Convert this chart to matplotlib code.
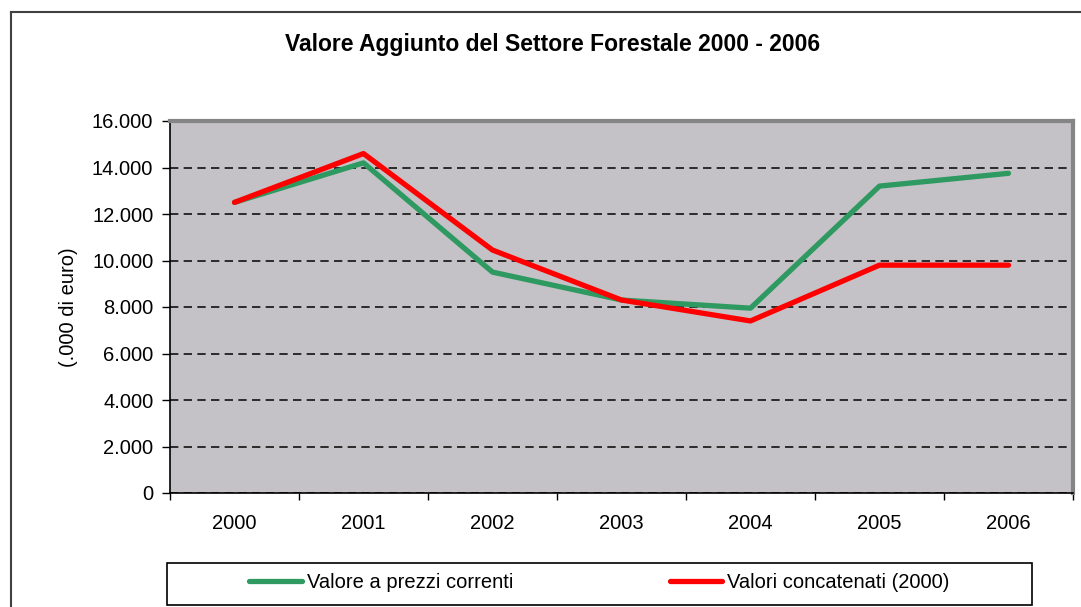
import matplotlib.pyplot as plt
from matplotlib.lines import Line2D
from matplotlib.patches import Rectangle
from matplotlib.ticker import FuncFormatter, FixedLocator

plt.rcParams['font.family'] = ['Liberation Sans', 'DejaVu Sans']

# Dati
anni = ['2000', '2001', '2002', '2003', '2004', '2005', '2006']
prezzi_correnti = [12500, 14200, 9500, 8300, 7950, 13200, 13750]
valori_concatenati = [12500, 14600, 10450, 8300, 7400, 9800, 9800]

W, H = 1081, 607
fig = plt.figure(figsize=(W / 100, H / 100), dpi=100)

# Area del grafico
ax = fig.add_axes([170 / W, 1 - 493 / H, (1073 - 170) / W, (493 - 121) / H])
ax.set_facecolor('#C4C2C6')

x = range(len(anni))
ax.plot(x, prezzi_correnti, color='#2E9960', lw=3.8, solid_capstyle='round',
        label='Valore a prezzi correnti', zorder=3)
ax.plot(x, valori_concatenati, color='#FF0000', lw=3.8, solid_capstyle='round',
        label='Valori concatenati (2000)', zorder=4)

ax.set_xlim(-0.5, len(anni) - 0.5)
ax.set_ylim(0, 16000)
ax.set_yticks(range(0, 16001, 2000))
ax.yaxis.set_major_formatter(FuncFormatter(lambda v, p: format(int(v), ',').replace(',', '.')))

# tick sui confini delle categorie, etichette al centro
ax.xaxis.set_major_locator(FixedLocator([i - 0.5 for i in range(len(anni) + 1)]))
ax.xaxis.set_minor_locator(FixedLocator(list(x)))
ax.set_xticklabels([''] * (len(anni) + 1))
ax.set_xticklabels(anni, minor=True)
ax.tick_params(axis='x', which='major', length=5, width=1, direction='out')
ax.tick_params(axis='x', which='minor', length=0, pad=15, labelsize=14.5)
ax.tick_params(axis='y', length=6, width=1, direction='out', pad=6, labelsize=14.5)

ax.grid(axis='y', color='#111111', linestyle=(0, (5, 3.2)), lw=1.2)
ax.set_axisbelow(True)

for s in ['left', 'bottom']:
    ax.spines[s].set_color('black')
    ax.spines[s].set_linewidth(1.2)
for s in ['top', 'right']:
    ax.spines[s].set_color('#858585')
    ax.spines[s].set_linewidth(3)

# Titolo e etichetta asse y
fig.text(553 / W, 1 - 45 / H, 'Valore Aggiunto del Settore Forestale 2000 - 2006',
         ha='center', va='center', fontsize=16.5, fontweight='bold')
fig.text(68 / W, 1 - 307 / H, '(.000 di euro)', rotation=90,
         ha='center', va='center', fontsize=14.5)

# Cornice esterna (solo lato sinistro e superiore visibili)
fig.add_artist(Line2D([11 / W, 11 / W], [0, 1 - 12 / H], color='#404040', lw=1.5))
fig.add_artist(Line2D([11 / W, 1], [1 - 12 / H, 1 - 12 / H], color='#404040', lw=1.5))

# Legenda
fig.add_artist(Rectangle((167 / W, 1 - 605 / H), (1032 - 167) / W, (605 - 563) / H,
                         transform=fig.transFigure, fill=False, edgecolor='black', lw=1.2))
fig.legend(loc='center', bbox_to_anchor=(599.5 / W, 1 - 583 / H), ncol=2,
           frameon=False, fontsize=14.5, handlelength=2.6, handletextpad=0.25,
           columnspacing=7.8)

fig.savefig('out.png', dpi=100)
